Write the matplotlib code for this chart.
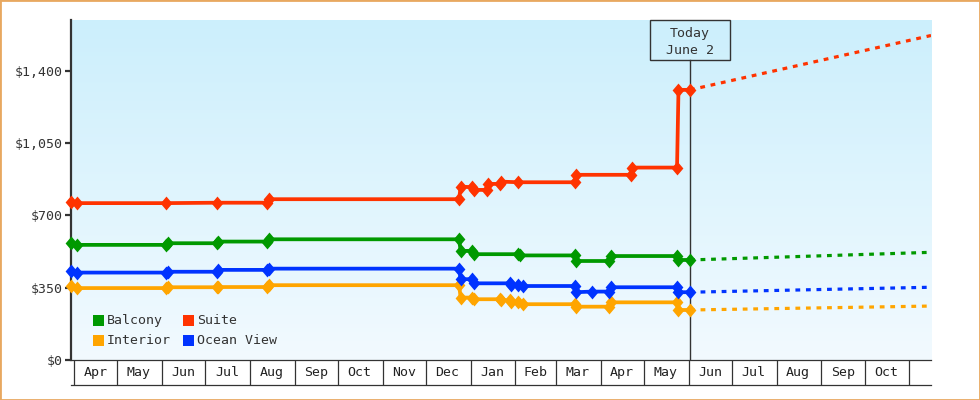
import numpy as np
import pandas as pd
import matplotlib
matplotlib.use('Agg')
import matplotlib.pyplot as plt
import matplotlib.dates as mdates
from matplotlib import transforms
from matplotlib.patches import Rectangle

plt.rcParams['font.family'] = ['DejaVu Sans Mono']

# price history, one list of dates and one of prices per cabin type
balcony_dates = ['2018-03-30', '2018-04-03', '2018-06-04', '2018-06-05', '2018-07-09', '2018-07-10',
                 '2018-08-13', '2018-08-14', '2018-12-24', '2018-12-25', '2019-01-02', '2019-01-03',
                 '2019-02-03', '2019-02-04', '2019-03-14', '2019-03-15', '2019-04-07', '2019-04-08',
                 '2019-05-24', '2019-05-25', '2019-06-02']
balcony_prices = [568, 557, 557, 565, 565, 573, 573, 584, 584, 528, 528, 512,
                  512, 506, 506, 479, 479, 503, 503, 484, 484]

suite_dates = ['2018-03-30', '2018-04-03', '2018-06-04', '2018-07-09', '2018-08-13', '2018-08-14',
               '2018-12-24', '2018-12-25', '2019-01-02', '2019-01-03', '2019-01-12', '2019-01-13',
               '2019-01-21', '2019-01-22', '2019-02-03', '2019-03-14', '2019-03-15', '2019-04-22',
               '2019-04-23', '2019-05-24', '2019-05-25', '2019-06-02']
suite_prices = [766, 759, 759, 761, 761, 778, 778, 839, 836, 823, 823, 852,
                852, 863, 860, 860, 896, 896, 931, 931, 1307, 1307]

interior_dates = ['2018-03-30', '2018-04-03', '2018-06-04', '2018-06-05', '2018-07-09', '2018-07-10',
                  '2018-08-13', '2018-08-14', '2018-12-24', '2018-12-25', '2019-01-02', '2019-01-03',
                  '2019-01-21', '2019-01-22', '2019-01-28', '2019-01-29', '2019-02-03', '2019-02-06',
                  '2019-03-14', '2019-03-15', '2019-04-07', '2019-04-08', '2019-05-24', '2019-05-25',
                  '2019-06-02']
interior_prices = [358, 348, 348, 352, 352, 353, 353, 362, 362, 302, 302, 294,
                   294, 289, 289, 282, 282, 270, 270, 258, 258, 279, 279, 242, 242]

ocean_dates = ['2018-03-30', '2018-04-03', '2018-06-04', '2018-06-05', '2018-07-09', '2018-07-10',
               '2018-08-13', '2018-08-14', '2018-12-24', '2018-12-25', '2019-01-02', '2019-01-03',
               '2019-01-28', '2019-01-29', '2019-02-03', '2019-02-06', '2019-03-14', '2019-03-15',
               '2019-03-26', '2019-04-07', '2019-04-08', '2019-05-24', '2019-05-25', '2019-06-02']
ocean_prices = [431, 423, 423, 427, 427, 436, 436, 442, 442, 391, 391, 371,
                371, 363, 363, 358, 358, 328, 331, 331, 352, 352, 328, 328]

# forecast from today to the end of the range
forecast_dates = ['2019-06-02', '2019-11-16']
balcony_forecast = [484, 521]
suite_forecast = [1307, 1570]
interior_forecast = [242, 261]
ocean_forecast = [328, 352]

month_labels = ['Apr', 'May', 'Jun', 'Jul', 'Aug', 'Sep', 'Oct', 'Nov', 'Dec', 'Jan',
                'Feb', 'Mar', 'Apr', 'May', 'Jun', 'Jul', 'Aug', 'Sep', 'Oct']
y_ticks = [0, 350, 700, 1050, 1400]
y_labels = ['$0', '$350', '$700', '$1,050', '$1,400']
today = '2019-06-02'
today_text = ['Today', 'June 2']

x_start, x_end = '2018-03-30', '2019-11-16'

green, red, orange, blue = '#009900', '#ff3300', '#ffa500', '#0033ff'
ink = '#333333'
W, H = 980, 400

# slightly tall diamond, like the original markers
diamond = [(0, -1), (0.85, 0), (0, 1), (-0.85, 0), (0, -1)]

def d(s):
    return np.array(s, dtype='datetime64[D]')

fig = plt.figure(figsize=(W / 100, H / 100), dpi=100)
fig.patch.set_facecolor('white')

rect = [71 / W, 40 / H, 860 / W, 340 / H]
bg = fig.add_axes(rect, zorder=0)
grad = np.linspace(0, 1, 256)[:, None]
top = np.array([204, 239, 252]) / 255
bot = np.array([242, 250, 255]) / 255
img = top[None, None, :] * (1 - grad[:, :, None]) + bot[None, None, :] * grad[:, :, None]
bg.imshow(img, aspect='auto', extent=[0, 1, 0, 1])
bg.axis('off')

ax = fig.add_axes(rect, zorder=1)
ax.set_facecolor('none')

series = [
    (balcony_dates, balcony_prices, balcony_forecast, green),
    (suite_dates, suite_prices, suite_forecast, red),
    (interior_dates, interior_prices, interior_forecast, orange),
    (ocean_dates, ocean_prices, ocean_forecast, blue),
]
for dates, prices, fc, c in series:
    ax.plot(d(forecast_dates), fc, color=c, lw=2.3, dashes=(1.5, 1.8),
            dash_capstyle='butt')
for dates, prices, fc, c in series:
    ax.plot(d(dates), prices, color=c, lw=2.7, marker=diamond, ms=10, mew=0,
            clip_on=False, zorder=3)

ax.set_xlim(d(x_start), d(x_end))
ax.set_ylim(0, 1645)

for s in ['top', 'right']:
    ax.spines[s].set_visible(False)
ax.spines['left'].set_linewidth(1.6)
ax.spines['left'].set_color(ink)
ax.spines['bottom'].set_linewidth(0.9)
ax.spines['bottom'].set_color(ink)

ax.set_yticks(y_ticks)
ax.set_yticklabels(y_labels)
ax.tick_params(axis='y', length=4, width=1.6, color=ink, labelsize=9.5,
               labelcolor=ink, pad=2)
ax.set_xticks([])

# month cells under the axis
xt = ax.get_xaxis_transform()
cell_bottom = -25 / 340
starts = pd.date_range('2018-04-01', '2019-11-01', freq='MS').values.astype('datetime64[D]')
ax.vlines(starts, cell_bottom, 0, transform=xt, colors=ink, lw=0.9, clip_on=False)
ax.plot([d(x_start), d(x_end)], [cell_bottom, cell_bottom], transform=xt, color=ink,
        lw=0.9, clip_on=False)
for i, lab in enumerate(month_labels):
    mid = starts[i] + (starts[i + 1] - starts[i]) / 2
    ax.text(mid, cell_bottom / 2, lab, transform=xt, ha='center', va='center',
            fontsize=9.5, color='#222222')

# today marker and its label box
box_h = 40 / 340
box_w = 80 / 1.443  # 80 px expressed in days
t = d(today)
ax.axvline(t, ymin=0, ymax=1 - box_h, color=ink, lw=1, zorder=2)
bt = transforms.blended_transform_factory(ax.transData, ax.transAxes)
tnum = mdates.date2num(t)
ax.add_patch(Rectangle((tnum - box_w / 2, 1 - box_h), box_w, box_h, transform=bt,
                       fill=False, edgecolor=ink, lw=1, zorder=4, clip_on=False))
ax.text(t, 1 - 13 / 340, today_text[0], transform=xt, ha='center', va='center',
        fontsize=9.5, color=ink)
ax.text(t, 1 - 30 / 340, today_text[1], transform=xt, ha='center', va='center',
        fontsize=9.5, color=ink)

# legend
def px(x, y):
    return x / W, 1 - y / H

legend = [('Balcony', green, 93, 315), ('Suite', red, 183, 315),
          ('Interior', orange, 93, 335), ('Ocean View', blue, 183, 335)]
for lab, c, x, y in legend:
    fig.add_artist(Rectangle(px(x, y + 11), 11 / W, 11 / H, transform=fig.transFigure,
                             facecolor=c, edgecolor='none', zorder=5))
    fig.text(*px(x + 14, y + 5.5), lab, ha='left', va='center', fontsize=9.5,
             color=ink, zorder=5)

# outer frame
fig.add_artist(Rectangle((0, 0), 1, 1, transform=fig.transFigure, fill=False,
                         edgecolor='#e8a860', lw=2))

fig.savefig('out.png', dpi=100)
